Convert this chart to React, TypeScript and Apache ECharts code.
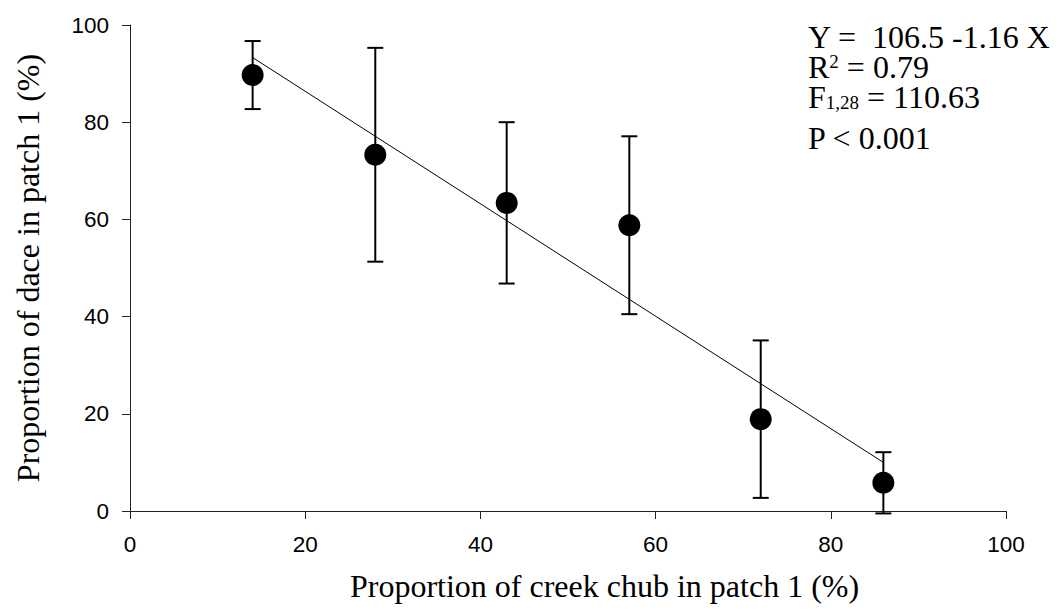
import React, { useEffect, useRef } from "react";
import * as echarts from "echarts";

// Creek chub share in patch 1 (%) for each treatment
const chubPct = [14, 28, 43, 57, 72, 86];
// Mean share of dace in patch 1 (%)
const dacePct = [89.7, 73.3, 63.4, 58.8, 18.9, 5.8];
// Error bar half-widths (%)
const daceErr = [7.0, 22.0, 16.6, 18.3, 16.2, 6.3];
// Fitted regression line end points
const fitX = [14, 86];
const fitY = [93.3, 10.0];
// Regression statistics (rich-text markup); the first three share one block
const statBlock = ["Y =  106.5 -1.16 X", "R{sup|2} = 0.79", "F{sub|1,28} = 110.63"];
const statLast = "P < 0.001";
const statBlockBaseline = 47;
const statLastBaseline = 148;

const axisTicks = [0, 20, 40, 60, 80, 100];

const SANS = '"Liberation Sans", Arial, Helvetica, sans-serif';
const SERIF = '"Liberation Serif", "Times New Roman", Times, serif';

export default function App() {
  const ref = useRef<HTMLDivElement>(null);

  useEffect(() => {
    if (!ref.current) return;
    const chart = echarts.init(ref.current, undefined, { renderer: "svg" });

    const errData = chubPct.map((x, i) => [x, dacePct[i], daceErr[i]]);
    const meanData = chubPct.map((x, i) => [x, dacePct[i]]);
    const fitData = fitX.map((x, i) => [x, fitY[i]]);

    const capHalf = 8;
    const barStyle = { stroke: "#000", lineWidth: 2 };

    const statFont = 32;
    const statLineH = 30;
    // baseline sits about 0.34em below the centre of the first line box
    const statTop = (b: number) => b - statLineH / 2 - 0.34 * statFont;
    const statStyle = {
      fontFamily: SERIF,
      fontSize: statFont,
      lineHeight: statLineH,
      fill: "#000",
      rich: {
        sup: { fontFamily: SERIF, fontSize: 19, lineHeight: 12, verticalAlign: "top", fill: "#000" },
        sub: { fontFamily: SERIF, fontSize: 19, lineHeight: 12, verticalAlign: "bottom", fill: "#000" },
      },
    };

    const axisCommon = {
      min: axisTicks[0],
      max: axisTicks[axisTicks.length - 1],
      interval: axisTicks[1] - axisTicks[0],
      splitLine: { show: false },
      axisLine: { show: true, lineStyle: { color: "#222", width: 1 } },
      axisTick: { show: true, inside: false, length: 8, lineStyle: { color: "#222", width: 1 } },
    };

    chart.setOption({
      animation: false,
      backgroundColor: "#fff",
      grid: { left: 130, right: 54, top: 25, bottom: 101, containLabel: false },
      xAxis: {
        type: "value",
        ...axisCommon,
        name: "Proportion of creek chub in patch 1 (%)",
        nameLocation: "middle",
        nameGap: 59,
        nameTextStyle: {
          fontFamily: SERIF,
          fontSize: 32,
          color: "#000",
          padding: [0, 0, 0, 73],
        },
        axisLabel: { fontFamily: SANS, fontSize: 22.5, color: "#000", margin: 22 },
      },
      yAxis: {
        type: "value",
        ...axisCommon,
        name: "Proportion of dace in patch 1 (%)",
        nameLocation: "middle",
        nameGap: 86,
        nameRotate: 90,
        nameTextStyle: { fontFamily: SERIF, fontSize: 32, color: "#000" },
        axisLabel: { fontFamily: SANS, fontSize: 22.5, color: "#000", margin: 21 },
      },
      graphic: [
        {
          type: "text",
          left: 808,
          top: statTop(statBlockBaseline),
          silent: true,
          style: { ...statStyle, text: statBlock.join("\n") },
        },
        {
          type: "text",
          left: 808,
          top: statTop(statLastBaseline),
          silent: true,
          style: { ...statStyle, text: statLast },
        },
      ],
      series: [
        {
          type: "line",
          data: fitData,
          symbol: "none",
          lineStyle: { color: "#000", width: 1 },
          z: 1,
        },
        {
          type: "custom",
          data: errData,
          clip: false,
          encode: { x: 0, y: 1 },
          z: 2,
          renderItem: (params: any, api: any) => {
            const x = api.value(0);
            const y = api.value(1);
            const e = api.value(2);
            const top = api.coord([x, y + e]);
            const bot = api.coord([x, y - e]);
            return {
              type: "group",
              children: [
                { type: "line", shape: { x1: top[0], y1: top[1], x2: bot[0], y2: bot[1] }, style: barStyle },
                { type: "line", shape: { x1: top[0] - capHalf, y1: top[1], x2: top[0] + capHalf, y2: top[1] }, style: barStyle },
                { type: "line", shape: { x1: bot[0] - capHalf, y1: bot[1], x2: bot[0] + capHalf, y2: bot[1] }, style: barStyle },
              ],
            };
          },
        },
        {
          type: "scatter",
          data: meanData,
          symbol: "circle",
          symbolSize: 22,
          itemStyle: { color: "#000", opacity: 1 },
          z: 3,
        },
      ],
    });

    return () => chart.dispose();
  }, []);

  return (
    <div
      ref={ref}
      style={{ position: "fixed", left: 0, top: 0, width: 1060, height: 612, background: "#fff" }}
    />
  );
}
